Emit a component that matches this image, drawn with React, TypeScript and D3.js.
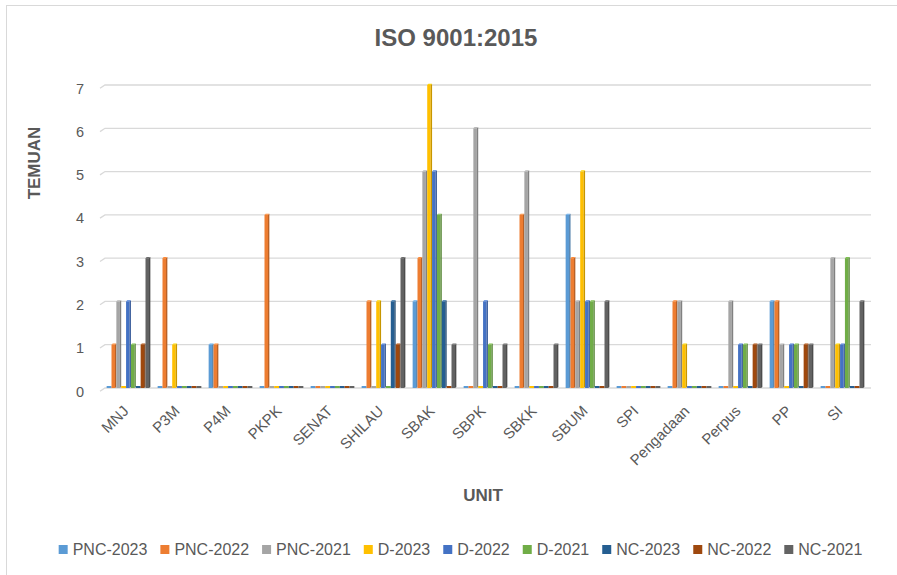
import React, { useEffect, useRef } from 'react'
import * as d3 from 'd3'

const categories = ['MNJ', 'P3M', 'P4M', 'PKPK', 'SENAT', 'SHILAU', 'SBAK', 'SBPK', 'SBKK', 'SBUM', 'SPI', 'Pengadaan', 'Perpus', 'PP', 'SI']
const seriesNames = ['PNC-2023', 'PNC-2022', 'PNC-2021', 'D-2023', 'D-2022', 'D-2021', 'NC-2023', 'NC-2022', 'NC-2021']
const seriesColors = ['#5B9BD5', '#ED7D31', '#A5A5A5', '#FFC000', '#4472C4', '#70AD47', '#255E91', '#9E480E', '#636363']

// one array per series, in category order
const pnc2023 = [0, 0, 1, 0, 0, 0, 2, 0, 0, 4, 0, 0, 0, 2, 0]
const pnc2022 = [1, 3, 1, 4, 0, 2, 3, 0, 4, 3, 0, 2, 0, 2, 0]
const pnc2021 = [2, 0, 0, 0, 0, 0, 5, 6, 5, 2, 0, 2, 2, 1, 3]
const d2023 = [0, 1, 0, 0, 0, 2, 7, 0, 0, 5, 0, 1, 0, 0, 1]
const d2022 = [2, 0, 0, 0, 0, 1, 5, 2, 0, 2, 0, 0, 1, 1, 1]
const d2021 = [1, 0, 0, 0, 0, 0, 4, 1, 0, 2, 0, 0, 1, 1, 3]
const nc2023 = [0, 0, 0, 0, 0, 2, 2, 0, 0, 0, 0, 0, 0, 0, 0]
const nc2022 = [1, 0, 0, 0, 0, 1, 0, 0, 0, 0, 0, 0, 1, 1, 0]
const nc2021 = [3, 0, 0, 0, 0, 3, 1, 1, 1, 2, 0, 0, 1, 1, 2]
const seriesValues = [pnc2023, pnc2022, pnc2021, d2023, d2022, d2021, nc2023, nc2022, nc2021]

const yTicks = [0, 1, 2, 3, 4, 5, 6, 7]

const W = 897
const H = 575
const FONT = "'Liberation Sans', Arial, sans-serif"
const TEXT = '#595959'

export default function App() {
  const ref = useRef<SVGSVGElement | null>(null)

  useEffect(() => {
    document.body.style.margin = '0'
    if (!ref.current) return
    const svg = d3.select(ref.current)
    svg.selectAll('*').remove()

    svg.append('rect').attr('width', W).attr('height', H).attr('fill', '#fff')
    // chart border
    svg.append('rect')
      .attr('x', 6.5).attr('y', 5.5).attr('width', W).attr('height', H + 20)
      .attr('fill', 'none').attr('stroke', '#D9D9D9')

    const x = d3.scaleBand<string>().domain(categories).range([103, 868]).padding(0)
    const inner = d3.scaleBand<string>().domain(seriesNames).range([0, x.bandwidth()]).paddingInner(0).paddingOuter(0.75)
    const y = d3.scaleLinear().domain([0, 7]).range([388, 85])

    // gridlines with a small floor slant on the left
    const grid = svg.append('g')
    yTicks.forEach((t) => {
      const yy = y(t)
      grid.append('path')
        .attr('d', `M100,${yy + 3.3}L105,${yy}L871,${yy}`)
        .attr('fill', 'none').attr('stroke', '#D9D9D9').attr('stroke-width', 1.3)
      grid.append('text')
        .attr('x', 84).attr('y', yy + 3.5).attr('dy', '0.35em')
        .attr('text-anchor', 'end')
        .attr('font-family', FONT).attr('font-size', 14.5).attr('fill', TEXT)
        .text(t)
    })

    // bars
    const bw = inner.bandwidth()
    const fw = bw * 0.72
    seriesNames.forEach((name, si) => {
      const col = seriesColors[si]
      const dark = d3.color(col)!.darker(0.7).formatHex()
      const light = d3.color(col)!.brighter(0.3).formatHex()
      const g = svg.append('g')
      categories.forEach((c, ci) => {
        const v = seriesValues[si][ci]
        const x0 = (x(c) as number) + (inner(name) as number)
        const base = y(0)
        if (v === 0) {
          g.append('rect').attr('x', x0).attr('y', base - 2).attr('width', bw).attr('height', 2).attr('fill', col)
          return
        }
        const top = y(v)
        g.append('rect').attr('x', x0).attr('y', top).attr('width', fw).attr('height', base - top).attr('fill', col)
        g.append('path')
          .attr('d', `M${x0 + fw},${top}L${x0 + bw},${top - 1.2}L${x0 + bw},${base - 1}L${x0 + fw},${base}Z`)
          .attr('fill', dark)
        g.append('path')
          .attr('d', `M${x0},${top}L${x0 + 1.2},${top - 1.2}L${x0 + bw},${top - 1.2}L${x0 + fw},${top}Z`)
          .attr('fill', light)
      })
    })

    // x labels
    categories.forEach((c) => {
      const cx = (x(c) as number) + x.bandwidth() / 2
      svg.append('text')
        .attr('transform', `translate(${cx + 1},${412}) rotate(-45)`)
        .attr('text-anchor', 'end')
        .attr('font-family', FONT).attr('font-size', 15).attr('fill', TEXT)
        .text(c)
    })

    // titles
    svg.append('text')
      .attr('x', 456).attr('y', 46)
      .attr('text-anchor', 'middle')
      .attr('font-family', FONT).attr('font-size', 24).attr('font-weight', 'bold').attr('fill', TEXT)
      .text('ISO 9001:2015')
    svg.append('text')
      .attr('x', 483).attr('y', 501)
      .attr('text-anchor', 'middle')
      .attr('font-family', FONT).attr('font-size', 17).attr('font-weight', 'bold').attr('fill', TEXT)
      .text('UNIT')
    svg.append('text')
      .attr('transform', `translate(40,163) rotate(-90)`)
      .attr('text-anchor', 'middle')
      .attr('font-family', FONT).attr('font-size', 17).attr('font-weight', 'bold').attr('fill', TEXT)
      .text('TEMUAN')

    // legend
    const leg = svg.append('g')
    const items = seriesNames.map((n, i) => {
      const it = leg.append('g')
      it.append('rect').attr('width', 9).attr('height', 9).attr('y', -10).attr('fill', seriesColors[i])
      const t = it.append('text')
        .attr('x', 14).attr('y', 0)
        .attr('font-family', FONT).attr('font-size', 16).attr('fill', TEXT)
        .text(n)
      return { it, w: 14 + (t.node() as SVGTextElement).getComputedTextLength() }
    })
    const gap = 13
    const total = d3.sum(items, (d) => d.w) + gap * (items.length - 1)
    let cur = 460.5 - total / 2
    items.forEach((d) => {
      d.it.attr('transform', `translate(${cur},555)`)
      cur += d.w + gap
    })
  }, [])

  return <svg ref={ref} width={W} height={H} style={{ display: 'block' }} />
}
